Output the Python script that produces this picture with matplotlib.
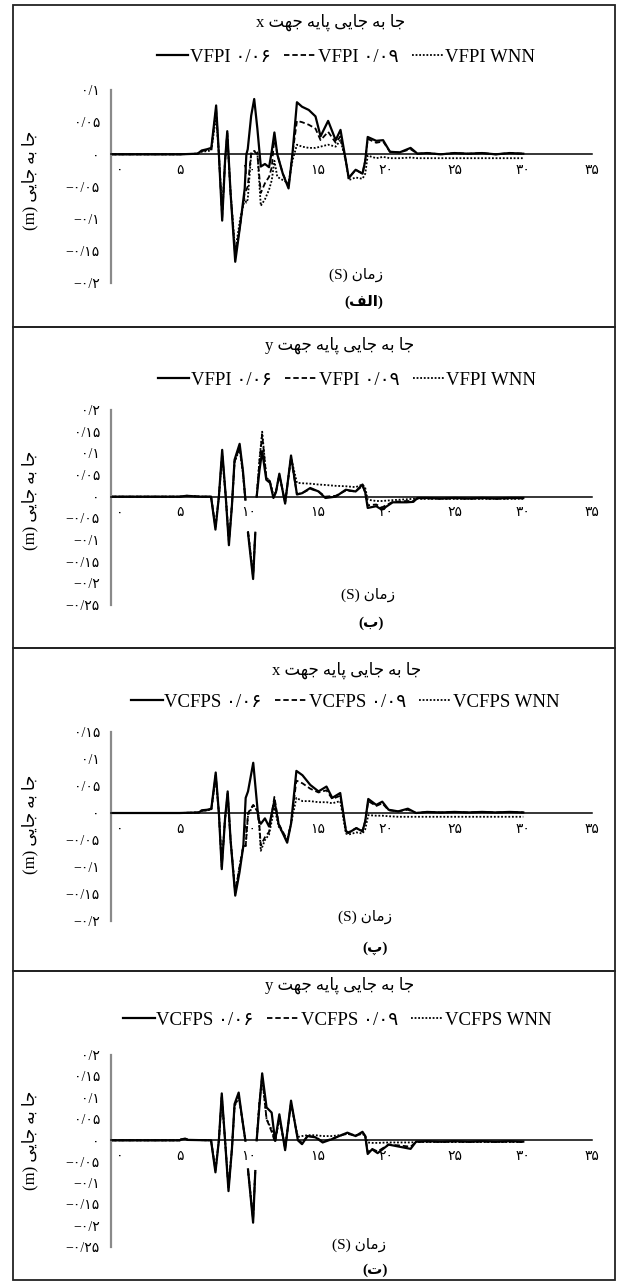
import numpy as np
import matplotlib
matplotlib.use("Agg")
import matplotlib.pyplot as plt
from matplotlib.lines import Line2D
from matplotlib.patches import Rectangle
from matplotlib.transforms import ScaledTranslation

plt.rcParams['font.family'] = ['Liberation Serif', 'DejaVu Sans']

W, H = 619, 1283

# ---------------- data ----------------
nan = np.nan

# (الف) base displacement x, VFPI
t_a = [0, 5.0, 6.3, 6.6, 7.0, 7.3, 7.65, 7.85, 8.09, 8.3, 8.46, 8.7, 9.04, 9.4, 9.73, 9.85, 9.95,
       10.2, 10.42, 10.65, 10.9, 11.2, 11.5, 11.7, 11.89, 12.1, 12.5, 12.92, 13.2, 13.53, 13.9,
       14.39, 14.88, 15.25, 15.8, 16.35, 16.7, 17.08, 17.3, 17.8, 18.3, 18.5, 18.68, 19.3, 19.8,
       20.3, 21.0, 21.8, 22.3, 23, 24, 25, 26, 27, 28, 29, 30]
a_006 = [0, 0, 0.001, 0.006, 0.008, 0.01, 0.076, 0.0, -0.103, -0.01, 0.036, -0.06, -0.167, -0.11, -0.053, 0.0, 0.008,
         0.06, 0.086, 0.04, -0.019, -0.015, -0.02, 0.005, 0.034, 0.0, -0.03, -0.053, 0.0, 0.081, 0.074,
         0.069, 0.059, 0.028, 0.052, 0.022, 0.038, -0.009, -0.037, -0.024, -0.03, -0.01, 0.027, 0.021, 0.022,
         0.004, 0.003, 0.01, 0.001, 0.002, 0.0, 0.002, 0.001, 0.002, 0.0, 0.002, 0.001]
a_009 = [0, 0, 0.001, 0.005, 0.007, 0.008, 0.07, 0.0, -0.098, -0.01, 0.033, -0.06, -0.158, -0.11, -0.06, -0.055, -0.05,
         0.002, 0.005, 0.0, -0.06, -0.045, -0.035, -0.02, 0.028, 0.0, -0.03, -0.05, 0.0, 0.052, 0.05,
         0.046, 0.04, 0.022, 0.035, 0.018, 0.028, -0.009, -0.036, -0.024, -0.03, -0.01, 0.024, 0.018, 0.02,
         0.004, 0.003, 0.008, 0.001, 0.002, 0.0, 0.002, 0.001, 0.002, 0.0, 0.002, 0.001]
a_wnn = [0, 0, 0.001, 0.004, 0.005, 0.006, 0.06, 0.0, -0.09, -0.01, 0.03, -0.06, -0.15, -0.1, -0.07, -0.075, -0.07,
         0.0, 0.005, 0.003, -0.08, -0.07, -0.055, -0.04, -0.01, -0.035, -0.04, -0.045, -0.01, 0.015, 0.012,
         0.01, 0.01, 0.012, 0.015, 0.012, 0.022, -0.01, -0.04, -0.036, -0.038, -0.03, -0.002, -0.006, -0.004,
         -0.006, -0.006, -0.005, -0.006, -0.006, -0.006, -0.006, -0.006, -0.006, -0.006, -0.006, -0.006]

# (ب) base displacement y, VFPI
t_b = [0, 5.0, 5.5, 6.0, 6.5, 7.28, 7.6, 7.85, 8.09, 8.35, 8.58, 8.8, 8.99, 9.36, 9.6, 9.78, 9.9, 9.97,
       10.34, 10.5, 10.55, 10.6, 10.8, 11.0, 11.3, 11.57, 11.82, 12.0, 12.25, 12.67, 13.1, 13.53, 13.9,
       14.5, 15.1, 15.6, 16.35, 17.08, 17.8, 18.3, 18.5, 18.68, 19.3, 19.7, 20.5, 21.5, 22.0, 22.3,
       23, 24, 25, 26, 27, 28, 29, 30]
b_006 = [0, 0, 0.002, 0.001, 0.0, 0.0, -0.076, 0.0, 0.108, 0.0, -0.112, -0.02, 0.085, 0.122, 0.06, -0.007, nan, -0.084,
         -0.19, -0.084, nan, 0.0, 0.06, 0.105, 0.039, 0.032, -0.003, 0.01, 0.053, -0.016, 0.095, 0.005, 0.008,
         0.02, 0.012, -0.003, 0.0, 0.016, 0.012, 0.028, 0.01, -0.026, -0.022, -0.03, -0.013, -0.013, -0.012, -0.003,
         -0.003, -0.004, -0.003, -0.004, -0.003, -0.004, -0.003, -0.003]
b_009 = [0, 0, 0.002, 0.001, 0.0, 0.0, -0.07, 0.0, 0.1, 0.0, -0.105, -0.02, 0.08, 0.115, 0.055, -0.007, nan, -0.08,
         -0.185, -0.08, nan, 0.0, 0.08, 0.143, 0.045, 0.035, 0.0, 0.01, 0.05, -0.014, 0.09, 0.006, 0.008,
         0.018, 0.012, 0.0, 0.002, 0.014, 0.012, 0.025, 0.01, -0.02, -0.018, -0.025, -0.012, -0.01, -0.01, -0.004,
         -0.004, -0.005, -0.004, -0.005, -0.004, -0.005, -0.004, -0.004]
b_wnn = [0, 0, 0.002, 0.001, 0.0, 0.0, -0.07, 0.0, 0.095, 0.0, -0.1, -0.02, 0.08, 0.11, 0.055, -0.007, nan, -0.08,
         -0.18, -0.08, nan, 0.0, 0.085, 0.15, 0.045, 0.035, 0.002, 0.012, 0.05, -0.012, 0.09, 0.032, 0.031,
         0.03, 0.028, 0.027, 0.025, 0.024, 0.022, 0.028, 0.02, -0.007, -0.01, -0.01, -0.008, -0.006, -0.005, -0.005,
         -0.005, -0.005, -0.005, -0.005, -0.005, -0.005, -0.005, -0.005]

# (پ) base displacement x, VCFPS
t_c = [0, 5.0, 6.4, 6.6, 7.0, 7.3, 7.62, 7.85, 8.06, 8.3, 8.49, 8.7, 9.04, 9.35, 9.63, 9.8, 9.97,
       10.35, 10.73, 10.9, 11.2, 11.5, 11.89, 12.2, 12.82, 13.1, 13.49, 13.93, 14.5, 15.1, 15.68,
       16.1, 16.68, 17.1, 17.27, 17.85, 18.3, 18.5, 18.72, 19.3, 19.74, 20.2, 20.9, 21.6, 22.2,
       23, 24, 25, 26, 27, 28, 29, 30]
c_006 = [0, 0, 0.001, 0.005, 0.006, 0.008, 0.075, 0.0, -0.104, -0.01, 0.04, -0.05, -0.153, -0.11, -0.061, 0.028, 0.04,
         0.093, -0.012, -0.02, -0.01, -0.025, 0.023, -0.021, -0.055, -0.02, 0.078, 0.07, 0.052, 0.04, 0.049,
         0.028, 0.037, -0.034, -0.037, -0.028, -0.034, -0.015, 0.026, 0.015, 0.021, 0.006, 0.003, 0.008, 0.0,
         0.002, 0.001, 0.002, 0.001, 0.002, 0.001, 0.002, 0.001]
c_009 = [0, 0, 0.001, 0.004, 0.005, 0.007, 0.07, 0.0, -0.1, -0.01, 0.036, -0.05, -0.148, -0.1, -0.061, -0.061, 0.0,
         0.015, 0.0, -0.06, -0.045, -0.035, 0.03, -0.02, -0.05, -0.02, 0.06, 0.055, 0.045, 0.038, 0.042,
         0.026, 0.032, -0.033, -0.036, -0.028, -0.033, -0.015, 0.022, 0.013, 0.018, 0.005, 0.003, 0.006, 0.0,
         0.002, 0.001, 0.002, 0.001, 0.002, 0.001, 0.002, 0.001]
c_wnn = [0, 0, 0.001, 0.004, 0.005, 0.006, 0.065, 0.0, -0.095, -0.01, 0.033, -0.05, -0.145, -0.1, -0.061, -0.061, -0.005,
         0.015, 0.0, -0.07, -0.05, -0.04, 0.01, -0.025, -0.05, -0.02, 0.028, 0.022, 0.022, 0.02, 0.02,
         0.018, 0.022, -0.038, -0.04, -0.036, -0.038, -0.03, -0.004, -0.005, -0.005, -0.006, -0.007, -0.007, -0.007,
         -0.007, -0.007, -0.007, -0.007, -0.007, -0.007, -0.007, -0.007]

# (ت) base displacement y, VCFPS
t_d = [0, 5.0, 5.1, 5.4, 5.6, 7.28, 7.6, 7.85, 8.06, 8.3, 8.55, 8.8, 8.99, 9.29, 9.55, 9.78, 9.9, 9.97,
       10.34, 10.5, 10.55, 10.6, 10.8, 11.0, 11.32, 11.69, 11.94, 12.25, 12.67, 13.1, 13.6, 13.9, 14.3,
       14.88, 15.4, 16.1, 16.6, 17.2, 17.8, 18.3, 18.5, 18.68, 19.0, 19.4, 20.2, 21.0, 21.8, 22.2,
       23, 24, 25, 26, 27, 28, 29, 30]
d_006 = [0, 0, 0.002, 0.004, 0.001, 0.0, -0.075, 0.0, 0.11, 0.0, -0.119, -0.02, 0.085, 0.112, 0.05, -0.001, nan, -0.068,
         -0.193, -0.072, nan, 0.0, 0.08, 0.157, 0.077, 0.065, -0.001, 0.061, -0.023, 0.093, 0.0, -0.009, 0.01,
         0.007, -0.005, 0.003, 0.01, 0.018, 0.01, 0.02, 0.01, -0.032, -0.021, -0.03, -0.01, -0.015, -0.02, -0.003,
         -0.002, -0.003, -0.002, -0.003, -0.002, -0.003, -0.002, -0.003]
d_009 = [0, 0, 0.002, 0.004, 0.001, 0.0, -0.07, 0.0, 0.105, 0.0, -0.112, -0.02, 0.08, 0.105, 0.05, -0.001, nan, -0.07,
         -0.185, -0.07, nan, 0.0, 0.09, 0.15, 0.05, 0.02, -0.005, 0.055, -0.02, 0.088, 0.002, -0.006, 0.01,
         0.008, -0.003, 0.004, 0.01, 0.016, 0.01, 0.018, 0.01, -0.028, -0.02, -0.026, -0.01, -0.012, -0.015, -0.004,
         -0.003, -0.004, -0.003, -0.004, -0.003, -0.004, -0.003, -0.004]
d_wnn = [0, 0, 0.002, 0.004, 0.001, 0.0, -0.07, 0.0, 0.1, 0.0, -0.11, -0.02, 0.08, 0.1, 0.05, -0.001, nan, -0.07,
         -0.18, -0.07, nan, 0.0, 0.09, 0.145, 0.05, 0.025, 0.0, 0.05, -0.015, 0.085, 0.008, 0.01, 0.012,
         0.012, 0.01, 0.01, 0.012, 0.015, 0.012, 0.015, 0.01, -0.005, -0.006, -0.006, -0.005, -0.005, -0.005, -0.004,
         -0.004, -0.004, -0.004, -0.004, -0.004, -0.004, -0.004, -0.004]

x_ticks = [0, 5, 10, 15, 20, 25, 30, 35]
x_labels = ['۰', '۵', '۱۰', '۱۵', '۲۰', '۲۵', '۳۰', '۳۵']

y_ticks_a = [0.1, 0.05, 0, -0.05, -0.1, -0.15, -0.2]
y_labels_a = ['۰/۱', '۰/۰۵', '۰', '−۰/۰۵', '−۰/۱', '−۰/۱۵', '−۰/۲']
y_ticks_b = [0.2, 0.15, 0.1, 0.05, 0, -0.05, -0.1, -0.15, -0.2, -0.25]
y_labels_b = ['۰/۲', '۰/۱۵', '۰/۱', '۰/۰۵', '۰', '−۰/۰۵', '−۰/۱', '−۰/۱۵', '−۰/۲', '−۰/۲۵']
y_ticks_c = [0.15, 0.1, 0.05, 0, -0.05, -0.1, -0.15, -0.2]
y_labels_c = ['۰/۱۵', '۰/۱', '۰/۰۵', '۰', '−۰/۰۵', '−۰/۱', '−۰/۱۵', '−۰/۲']

legend_vfpi = ['VFPI ۰/۰۶', 'VFPI ۰/۰۹', 'VFPI WNN']
legend_vcfps = ['VCFPS ۰/۰۶', 'VCFPS ۰/۰۹', 'VCFPS WNN']

# ---------------- simple persian shaping (no bidi lib available) ----------------
FORMS = {
    'ا': ('\uFE8D', '\uFE8E', None, None),
    'ب': ('\uFE8F', '\uFE90', '\uFE91', '\uFE92'),
    'پ': ('\uFB56', '\uFB57', '\uFB58', '\uFB59'),
    'ت': ('\uFE95', '\uFE96', '\uFE97', '\uFE98'),
    'ج': ('\uFE9D', '\uFE9E', '\uFE9F', '\uFEA0'),
    'ز': ('\uFEAF', '\uFEB0', None, None),
    'ف': ('\uFED1', '\uFED2', '\uFED3', '\uFED4'),
    'ل': ('\uFEDD', '\uFEDE', '\uFEDF', '\uFEE0'),
    'م': ('\uFEE1', '\uFEE2', '\uFEE3', '\uFEE4'),
    'ن': ('\uFEE5', '\uFEE6', '\uFEE7', '\uFEE8'),
    'ه': ('\uFEE9', '\uFEEA', '\uFEEB', '\uFEEC'),
    'ی': ('\uFBFC', '\uFBFD', '\uFBFE', '\uFBFF'),
}


def fa(text):
    out = []
    for i, ch in enumerate(text):
        if ch not in FORMS:
            out.append(ch)
            continue
        iso, fin, ini, med = FORMS[ch]
        prev = text[i - 1] if i > 0 else ''
        nxt = text[i + 1] if i + 1 < len(text) else ''
        jp = prev in FORMS and FORMS[prev][2] is not None
        jn = ini is not None and nxt in FORMS
        if jp and jn:
            out.append(med)
        elif jp:
            out.append(fin)
        elif jn:
            out.append(ini)
        else:
            out.append(iso)
    s = ''.join(reversed(out))
    return s.translate(str.maketrans('()', ')('))


# ---------------- figure ----------------
fig = plt.figure(figsize=(W / 100, H / 100), dpi=100)


def fx(px):
    return px / W


def fy(py):
    return 1 - py / H


panels = [
    dict(box=(5, 327), ax=(90, 283), ylim=(-0.2, 0.1), yt=y_ticks_a, yl=y_labels_a,
         t=t_a, s=(a_006, a_009, a_wnn), leg=legend_vfpi, title='جا به جایی پایه جهت x', tag='(الف)',
         ty=22, ly=57, xly=275, tgy=302, ylab=180, tx=331, lx=346, xlx=356, tgx=364),
    dict(box=(327, 648), ax=(410, 605), ylim=(-0.25, 0.2), yt=y_ticks_b, yl=y_labels_b,
         t=t_b, s=(b_006, b_009, b_wnn), leg=legend_vfpi, title='جا به جایی پایه جهت y', tag='(ب)',
         ty=345, ly=380, xly=595, tgy=623, ylab=500, tx=340, lx=347, xlx=368, tgx=371),
    dict(box=(648, 971), ax=(732, 921), ylim=(-0.2, 0.15), yt=y_ticks_c, yl=y_labels_c,
         t=t_c, s=(c_006, c_009, c_wnn), leg=legend_vcfps, title='جا به جایی پایه جهت x', tag='(پ)',
         ty=670, ly=702, xly=917, tgy=948, ylab=824, tx=347, lx=345, xlx=365, tgx=375),
    dict(box=(971, 1280), ax=(1055, 1247), ylim=(-0.25, 0.2), yt=y_ticks_b, yl=y_labels_b,
         t=t_d, s=(d_006, d_009, d_wnn), leg=legend_vcfps, title='جا به جایی پایه جهت y', tag='(ت)',
         ty=985, ly=1020, xly=1245, tgy=1270, ylab=1140, tx=340, lx=337, xlx=359, tgx=375),
]

styles = [dict(ls='-', lw=1.6), dict(ls=(0, (3, 1.6)), lw=1.3), dict(ls=(0, (1, 1)), lw=1.3)]

for p in panels:
    top, bot = p['box']
    fig.patches.append(Rectangle((fx(13), fy(bot)), fx(615) - fx(13), fy(top) - fy(bot),
                                 transform=fig.transFigure, fill=False, ec='#222222', lw=1.3))
    atop, abot = p['ax']
    ax = fig.add_axes([fx(111), fy(abot), fx(592) - fx(111), fy(atop) - fy(abot)])
    for ser, st in zip(p['s'][::-1], styles[::-1]):
        ax.plot(p['t'], ser, color='black', **st)
    ax.set_xlim(0, 35)
    ax.set_ylim(*p['ylim'])
    ax.spines['top'].set_visible(False)
    ax.spines['right'].set_visible(False)
    ax.spines['bottom'].set_position(('data', 0))
    ax.spines['bottom'].set_linewidth(1.1)
    ax.spines['left'].set_color('#8a8a8a')
    ax.spines['left'].set_linewidth(1.6)
    ax.set_xticks(x_ticks)
    ax.set_xticklabels(x_labels, fontsize=10)
    ax.set_yticks(p['yt'])
    ax.set_yticklabels(p['yl'], fontsize=10)
    ax.tick_params(length=0)
    ax.tick_params(axis='x', pad=7)
    ax.tick_params(axis='y', pad=8)
    lbl0 = ax.get_xticklabels()[0]
    lbl0.set_transform(lbl0.get_transform() + ScaledTranslation(9 / 100, 0, fig.dpi_scale_trans))
    ax.patch.set_visible(False)

    fig.text(fx(p['tx']), fy(p['ty']), fa(p['title']), ha='center', va='center', fontsize=12)
    fig.text(fx(p['xlx']), fy(p['xly']), fa('زمان (S)'), ha='center', va='center', fontsize=11)
    fig.text(fx(p['tgx']), fy(p['tgy']), fa(p['tag']), ha='center', va='center', fontsize=11,
             fontweight='bold')
    fig.text(fx(30), fy(p['ylab']), fa('جا به جایی (m)'), ha='center', va='center', fontsize=12,
             rotation=90)

    handles = [Line2D([], [], color='black', **st) for st in styles]
    fig.legend(handles, p['leg'], loc='center', bbox_to_anchor=(fx(p['lx']), fy(p['ly'])),
               ncol=3, frameon=False, fontsize=13.5, handlelength=1.7, handletextpad=0.1,
               columnspacing=0.7, borderpad=0)

fig.savefig('out.png', dpi=100)
